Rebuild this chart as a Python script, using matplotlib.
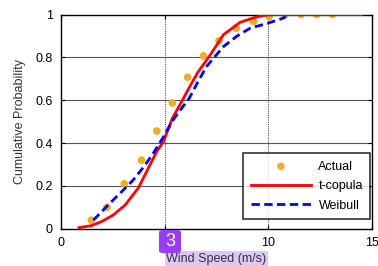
import matplotlib
matplotlib.use("Agg")
import matplotlib.pyplot as plt
from matplotlib.patches import FancyBboxPatch

plt.rcParams['font.family'] = ['Liberation Sans', 'DejaVu Sans']

actual_x = [1.46, 2.22, 3.05, 3.88, 4.62, 5.37, 6.11, 6.87, 7.62, 8.45, 9.29, 10.04, 10.8, 11.58, 12.33, 13.09]
actual_y = [0.04, 0.10, 0.21, 0.32, 0.456, 0.587, 0.707, 0.807, 0.877, 0.936, 0.967, 0.99, 0.998, 1.0, 1.0, 1.0]

tcop_x = [0.87, 1.45, 2.0, 2.52, 3.09, 3.73, 4.2, 4.62, 4.94, 5.37, 5.8, 6.14, 6.6, 7.19, 7.83, 8.63, 9.3, 10.0, 11.0, 12.0, 13.0, 14.5]
tcop_y = [0.005, 0.014, 0.035, 0.064, 0.11, 0.19, 0.28, 0.36, 0.407, 0.515, 0.59, 0.651, 0.73, 0.81, 0.905, 0.963, 0.985, 1.0, 1.0, 1.0, 1.0, 1.0]

weib_x = [1.56, 2.36, 3.0, 3.49, 4.0, 4.45, 4.95, 5.41, 5.8, 6.19, 6.6, 7.02, 7.83, 8.5, 9.12, 10.0, 10.72, 10.85]
weib_y = [0.04, 0.119, 0.18, 0.228, 0.29, 0.352, 0.43, 0.508, 0.56, 0.61, 0.685, 0.757, 0.85, 0.9, 0.936, 0.96, 0.983, 0.99]

xticks = [0, 5, 10, 15]
yticks = [0, 0.2, 0.4, 0.6, 0.8, 1]
ytick_labels = ['0', '0.2', '0.4', '0.6', '0.8', '1']

fig = plt.figure(figsize=(3.78, 2.66), dpi=100)
ax = fig.add_axes([61/378, 1 - 228.7/266, (372 - 61)/378, (228.7 - 14.5)/266])

ax.plot(tcop_x, tcop_y, color='#ff0000', lw=2, label='t-copula', zorder=3)
ax.plot(weib_x, weib_y, color='#0000ff', lw=2, ls=(0, (3, 1.6)), label='Weibull', zorder=3)
ax.scatter(actual_x, actual_y, s=30, color='#efad29', edgecolors='none', label='Actual', zorder=2)

ax.set_xlim(0, 15)
ax.set_ylim(0, 1)
ax.set_xticks(xticks)
ax.set_xticklabels([str(t) for t in xticks])
ax.set_yticks(yticks)
ax.set_yticklabels(ytick_labels)
for y in yticks[1:-1]:
    ax.axhline(y, color='#555555', lw=0.8, zorder=1)
for x in [5, 10]:
    ax.axvline(x, color='#555555', lw=0.8, ls=(0, (1, 1)), zorder=1)
ax.tick_params(direction='in', top=True, right=True, labelsize=9, length=3, pad=6, colors='black')
for s in ax.spines.values():
    s.set_linewidth(1.0)

ax.set_ylabel('Cumulative Probability', fontsize=9, color='#333333', labelpad=7)
ax.set_xlabel('Wind Speed (m/s)', fontsize=9, color='#333333', labelpad=2.5,
              bbox=dict(boxstyle='square,pad=0.1', fc='#dcc8f7', ec='none'))

h, l = ax.get_legend_handles_labels()
order = [2, 0, 1]
leg = ax.legend([h[i] for i in order], [l[i] for i in order], loc='lower right',
                bbox_to_anchor=(0.995, 0.045), fontsize=9, frameon=True, fancybox=False,
                handlelength=4.8, borderpad=0.6, labelspacing=0.6, handletextpad=0.6,
                borderaxespad=0.0)
leg.get_frame().set_edgecolor('black')
leg.get_frame().set_linewidth(1.2)

badge = FancyBboxPatch((159/378, 1 - 253/266), 22/378, 23/266,
                       boxstyle='round,pad=0,rounding_size=0.01', transform=fig.transFigure,
                       fc='#9a3cf5', ec='none', zorder=10)
fig.patches.append(badge)
fig.text(170/378, 1 - 242/266, '3', color='white', fontsize=13, ha='center', va='center', zorder=11)

fig.savefig('out.png', dpi=100)
